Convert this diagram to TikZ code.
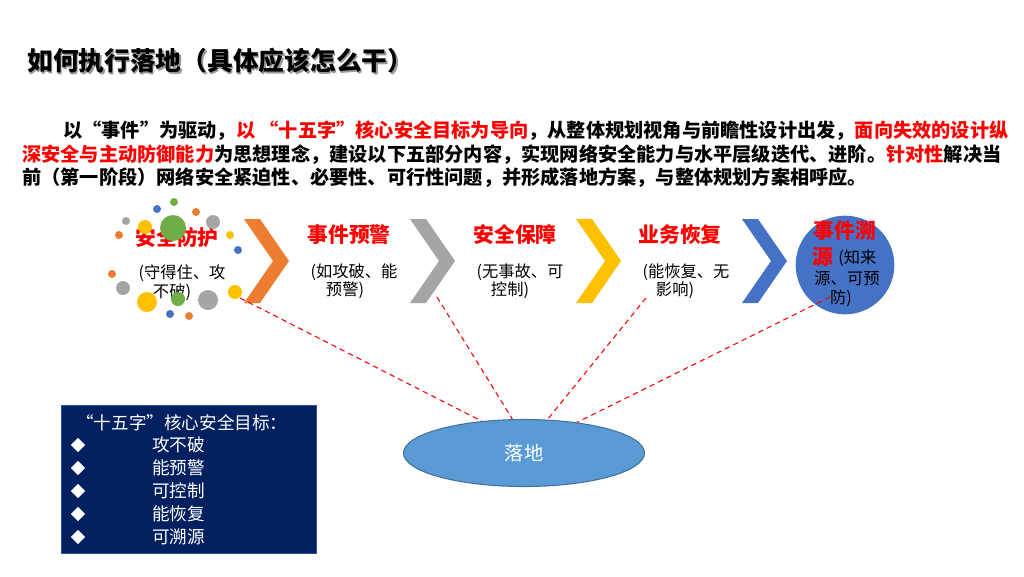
\documentclass[tikz,border=0pt]{standalone}
\usepackage{fontspec}
\setmainfont{Noto Sans CJK SC}
\usetikzlibrary{shapes.geometric}
\definecolor{cOrange}{HTML}{ED7D31}
\definecolor{cGray}{HTML}{A5A5A5}
\definecolor{cYellow}{HTML}{FFC000}
\definecolor{cBlue}{HTML}{4472C4}
\definecolor{cGreen}{HTML}{70AD47}
\definecolor{cRed}{HTML}{FF0000}
\definecolor{cNavy}{HTML}{002060}
\definecolor{cEll}{HTML}{5B9BD5}
\definecolor{cEllB}{HTML}{41719C}
\newcommand\fs[1]{\fontsize{#1}{#1}\selectfont}
\newcommand\mychevron[3]{\fill[#1] (#2,#3) -- ++(16,0) -- ++(29,42) -- ++(-29,42) -- ++(-16,0) -- ++(29,-42) -- cycle;}
\tikzset{
  titletext/.style={anchor=west, inner sep=0, font=\bfseries\fs{19.3pt}},
  paratext/.style={anchor=west, inner sep=0, font=\bfseries\fs{14.4pt}},
  headtext/.style={inner sep=0, text=cRed, font=\bfseries\fs{15.6pt}},
  subtext/.style={inner sep=0, font=\fs{12.2pt}},
  boxtext/.style={anchor=west, inner sep=0, text=white, font=\fs{13.2pt}},
  bullet/.style={diamond, fill=white, inner sep=0, minimum size=11pt},
  dashline/.style={cRed, line width=0.8pt, dash pattern=on 4pt off 3pt},
}
\begin{document}
\begin{tikzpicture}[x=0.75pt,y=-0.75pt]
\path[use as bounding box, fill=white] (0,0) rectangle (1024,576);
% title with shadow
\node[titletext, text=black!40] at (28.5,62.5) {如何执行落地（具体应该怎么干）};
\node (title) [titletext] at (27,61) {如何执行落地（具体应该怎么干）};
% paragraph
\node (p1) [paratext] at (63,131) {以“事件”为驱动，\textcolor{cRed}{以 “十五字”核心安全目标为导向}，从整体规划视角与前瞻性设计出发，\textcolor{cRed}{面向失效的设计纵}};
\node (p2) [paratext] at (22,155) {\textcolor{cRed}{深安全与主动防御能力}为思想理念，建设以下五部分内容，实现网络安全能力与水平层级迭代、进阶。\textcolor{cRed}{针对性}解决当};
\node (p3) [paratext] at (22,178) {前（第一阶段）网络安全紧迫性、必要性、可行性问题，并形成落地方案，与整体规划方案相呼应。};
% chevrons
\mychevron{cOrange}{244}{219}
\mychevron{cGray}{410}{219}
\mychevron{cYellow}{576}{219}
\mychevron{cBlue}{742}{219}
% stage texts
\node (h1) [headtext] at (177,238) {安全防护};
\node (s1a) [subtext] at (182,273) {(守得住、攻};
\node (s1b) [subtext] at (172,292) {不破)};
\node (h2) [headtext] at (349,235) {事件预警};
\node (s2a) [subtext] at (354,272) {(如攻破、能};
\node (s2b) [subtext] at (345,290) {预警)};
\node (h3) [headtext] at (515,235) {安全保障};
\node (s3a) [subtext] at (520,272) {(无事故、可};
\node (s3b) [subtext] at (510,290) {控制)};
\node (h4) [headtext] at (680,235) {业务恢复};
\node (s4a) [subtext] at (686,272) {(能恢复、无};
\node (s4b) [subtext] at (675,290) {影响)};
% decorative dots
\foreach \cx/\cy/\r/\c in {
  174/202/4/cGreen, 157/209/4/cBlue, 196/212/4/cOrange, 126/221/4/cGray,
  213/222/7/cGray, 145/227/7/cYellow, 173/228/13/cGreen, 119/235/4/cOrange,
  230/235/4/cYellow, 238/250/4/cBlue, 112/274/4/cOrange, 123/288/7/cGray,
  235/292/7/cYellow, 147/302/10/cYellow, 178/299/7/cGreen, 208/300/10/cGray,
  170/314/4/cBlue, 189/316/4/cOrange}
  {\fill[\c] (\cx,\cy) circle[radius=\r*0.75pt];}
% source circle
\node (src) [circle, fill=cBlue, minimum size=74pt, inner sep=0] at (845,265) {};
\node (h5) [headtext] at (845,231) {事件溯};
\node (h5b) [headtext, anchor=west] at (812,257) {源};
\node (s5a) [subtext, anchor=west] at (838,258) {(知来};
\node (s5b) [subtext] at (847,278) {源、可预};
\node (s5c) [subtext] at (841,298) {防)};
% landing ellipse
\node (land) [ellipse, fill=cEll, draw=cEllB, line width=0.8pt, minimum width=180.75pt, minimum height=50.25pt, inner sep=0, text=white, font=\fs{14.4pt}] at (524,453) {落地};
% dashed connectors
\coordinate (d1) at (240,298);
\coordinate (d2) at (437,297);
\coordinate (d3) at (646,298);
\coordinate (d4) at (830,297);
\draw[dashline] (d1) -- (land.143);
\draw[dashline] (d2) -- (land.109);
\draw[dashline] (d3) -- (land.55);
\draw[dashline] (d4) -- (land.30);
% goals box
\node (goals) [anchor=north west, fill=cNavy, draw=cBlue!60!cNavy, line width=0.6pt, minimum width=191.25pt, minimum height=111pt, inner sep=0] at (61,405) {};
\node (gt) [boxtext] at (76,423) {“十五字”核心安全目标：};
\foreach \i/\t in {0/攻不破, 1/能预警, 2/可控制, 3/能恢复, 4/可溯源}{
  \node (b\i) [bullet] at (78,445+23*\i) {};
  \node (g\i) [boxtext] at (152,445+23*\i) {\t};
}
\end{tikzpicture}
\end{document}
